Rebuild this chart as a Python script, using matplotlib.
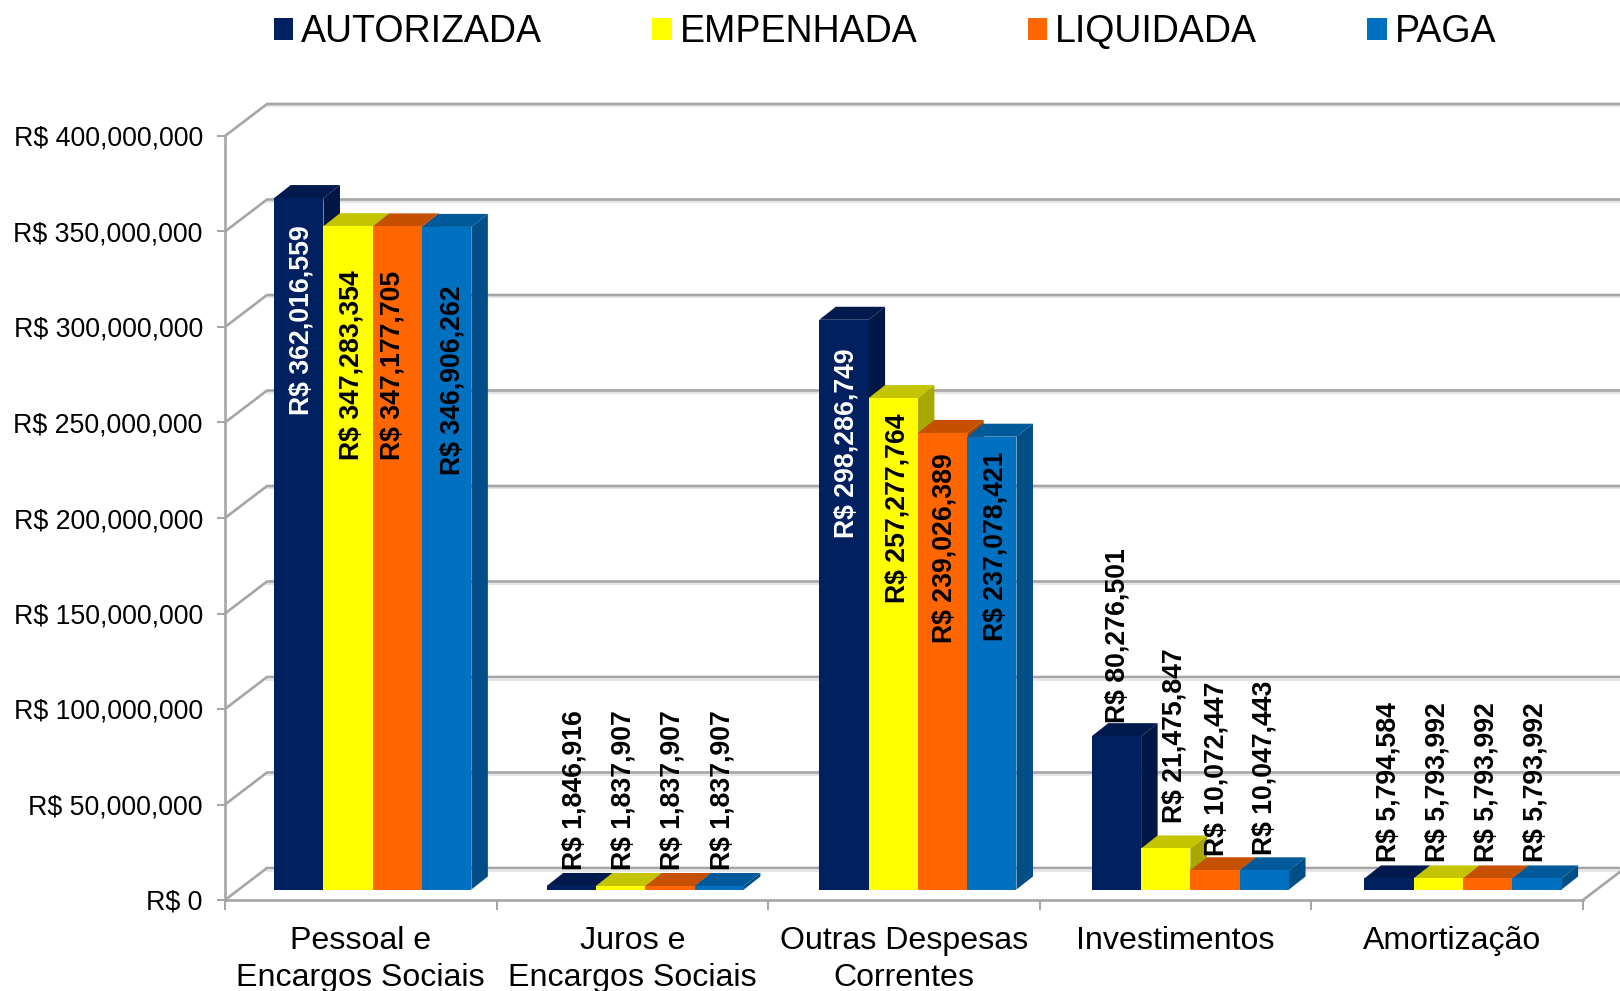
import matplotlib
matplotlib.use('Agg')
import matplotlib.pyplot as plt
import numpy as np
from matplotlib.patches import Patch, Polygon

plt.rcParams['font.family'] = ['Liberation Sans', 'DejaVu Sans']

categories = ['Pessoal e\nEncargos Sociais', 'Juros e\nEncargos Sociais',
              'Outras Despesas\nCorrentes', 'Investimentos', 'Amortização']
series = ['AUTORIZADA', 'EMPENHADA', 'LIQUIDADA', 'PAGA']
autorizada = [362016559, 1846916, 298286749, 80276501, 5794584]
empenhada = [347283354, 1837907, 257277764, 21475847, 5793992]
liquidada = [347177705, 1837907, 239026389, 10072447, 5793992]
paga = [346906262, 1837907, 237078421, 10047443, 5793992]
y_ticks = [0, 50000000, 100000000, 150000000, 200000000, 250000000, 300000000, 350000000, 400000000]

front = ['#00205F', '#FFFF00', '#FF6600', '#0070C0']
top = ['#001A4E', '#C4C400', '#C45000', '#005A9A']
side = ['#001745', '#A8A800', '#A84500', '#004E85']
grid_col = '#A6A6A6'
shadow_col = '#E6E6E6'

# label nudges in pixels from the top centre of each bar
nudge_x = [[3, 3, -5, 6], [3, 3, 3, 3], [3, 4, 2, 4], [1, 9, 1, 0], [-1, -1, -1, -1]]
nudge_y = [[-122, -139, -139, -153], [96, 96, 96, 96], [-123, -110, -115, -110],
           [101, 113, 101, 102], [96, 96, 96, 96]]

W, H = 1620, 991
fig = plt.figure(figsize=(W / 100, H / 100), dpi=100, facecolor='white')
ax = fig.add_axes([225 / W, (H - 900) / H, 1358 / W, 764 / H])
ax.set_xlim(0, 5)
ax.set_ylim(0, 400000000)
ax.patch.set_visible(False)

# data units per pixel
px = 5 / 1358
py = 400000000 / 764

wall_dx, wall_dy = 42 * px, 32 * py
bar_dx, bar_dy = 16.5 * px, 13 * py
base_x, base_y = 11.5 * px, 10.5 * py
bar_w = 49.3 * px
group_step = 1.0035

# back wall
for v in y_ticks:
    ax.plot([wall_dx, 5 + wall_dx], [v + wall_dy - 2.5 * py] * 2, color=shadow_col,
            lw=1.5, clip_on=False, zorder=0.5)
    ax.plot([0, wall_dx, 5 + wall_dx], [v, v + wall_dy, v + wall_dy], color=grid_col,
            lw=1.9, clip_on=False, zorder=1, solid_joinstyle='miter')
ax.plot([5, 5 + wall_dx], [0, wall_dy], color=grid_col, lw=1.9, clip_on=False, zorder=1)

# bars
values = [autorizada, empenhada, liquidada, paga]
for i in range(len(categories)):
    for j, vals in enumerate(values):
        v = vals[i]
        x = (i + 0.5) * group_step + base_x + (j - 1.5) * bar_w
        l, r = x - bar_w / 2, x + bar_w / 2
        t = base_y + v
        z = 3 + i + j * 0.1
        ax.add_patch(Polygon([(r, base_y), (r + bar_dx, base_y + bar_dy), (r + bar_dx, t + bar_dy), (r, t)],
                             closed=True, fc=side[j], ec='none', clip_on=False, zorder=z))
        ax.add_patch(Polygon([(l, t), (l + bar_dx, t + bar_dy), (r + bar_dx, t + bar_dy), (r, t)],
                             closed=True, fc=top[j], ec='none', clip_on=False, zorder=z))
        ax.bar(x, v, bar_w, bottom=base_y, color=front[j], clip_on=False, zorder=z + 0.01)
        text_col = 'white' if j == 0 and v > 200000000 else 'black'
        ax.annotate('R$ {:,}'.format(v), (x, t), xytext=(nudge_x[i][j], nudge_y[i][j]),
                    textcoords='offset pixels', rotation=90, ha='center', va='center',
                    fontsize=19.2, fontweight='bold', color=text_col, zorder=20, annotation_clip=False)

for name in ['top', 'right']:
    ax.spines[name].set_visible(False)
for name in ['left', 'bottom']:
    ax.spines[name].set_color(grid_col)
    ax.spines[name].set_linewidth(1.9)
    ax.spines[name].set_zorder(2)

ax.set_yticks(y_ticks)
ax.set_yticklabels(['R$ {:,}'.format(v) for v in y_ticks])
ax.tick_params(axis='y', length=6, width=1.4, color=grid_col, labelsize=19.3, pad=10)
ax.set_xticks(np.arange(6))
ax.set_xticklabels([])
ax.tick_params(axis='x', which='major', length=7, width=1.4, color=grid_col)
label_pos = np.arange(5) + 0.5
label_pos[4] += 5 * px
ax.set_xticks(label_pos, categories, minor=True)
ax.tick_params(axis='x', which='minor', length=0, labelsize=23.1, pad=18.5)
for lbl in ax.get_xticklabels(minor=True):
    lbl.set_linespacing(1.31)

handles = [Patch(fc=c, ec='none') for c in front]
fig.legend(handles, series, loc='center', bbox_to_anchor=(885 / W, 1 - 32 / H), ncols=4, frameon=False,
           fontsize=27, handlelength=0.52, handleheight=0.52, handletextpad=0.22,
           columnspacing=2.93, borderpad=0, borderaxespad=0)

fig.savefig('out.png', dpi=100)
